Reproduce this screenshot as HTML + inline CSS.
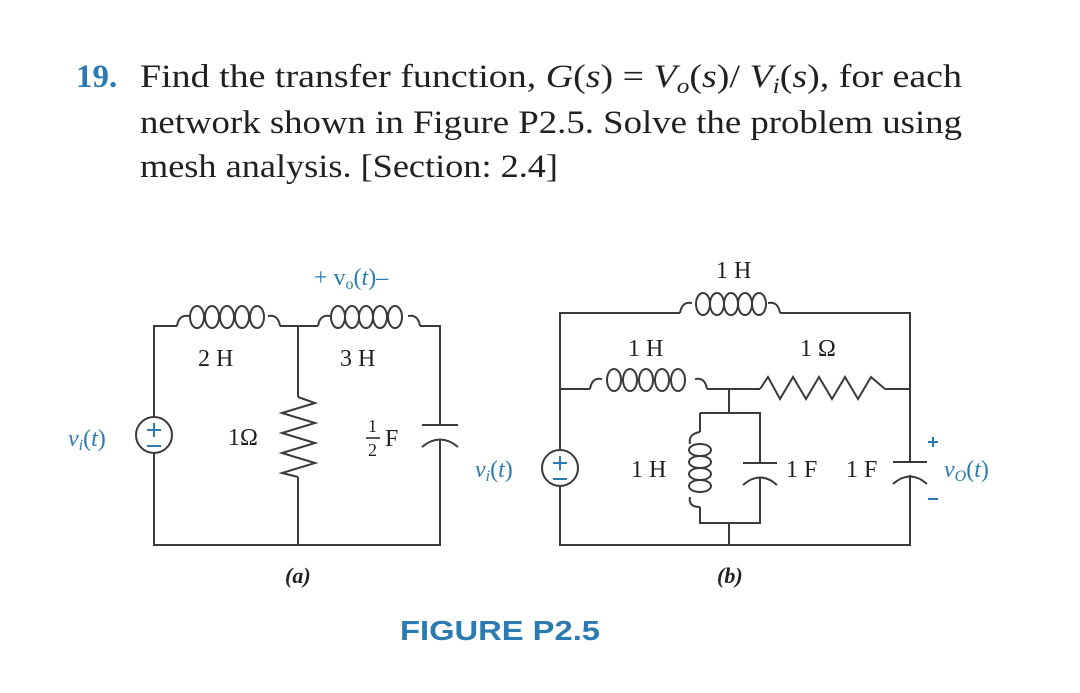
<!DOCTYPE html>
<html><head><meta charset="utf-8"><style>
html,body{margin:0;padding:0;background:#fff;}
svg{display:block;}
text{font-family:"Liberation Serif",serif;fill:#231f20;}
.b{fill:#2b7bb0;}
</style></head><body>
<svg width="1080" height="693" viewBox="0 0 1080 693" xmlns="http://www.w3.org/2000/svg">
<rect width="1080" height="693" fill="#fff"/>
<!-- Title -->
<text x="76" y="87" font-size="33" font-weight="bold" class="b" style="fill:#2b7bb0">19.</text>
<text x="140" y="87" font-size="33" textLength="822" lengthAdjust="spacingAndGlyphs">Find the transfer function, <tspan font-style="italic">G</tspan>(<tspan font-style="italic">s</tspan>) = <tspan font-style="italic">V</tspan><tspan font-style="italic" font-size="22" dy="6">o</tspan><tspan dy="-6">(</tspan><tspan font-style="italic">s</tspan>)/ <tspan font-style="italic">V</tspan><tspan font-style="italic" font-size="22" dy="6">i</tspan><tspan dy="-6">(</tspan><tspan font-style="italic">s</tspan>), for each</text>
<text x="140" y="133" font-size="33" textLength="822" lengthAdjust="spacingAndGlyphs">network shown in Figure P2.5. Solve the problem using</text>
<text x="140" y="177" font-size="33" textLength="418" lengthAdjust="spacingAndGlyphs">mesh analysis. [Section: 2.4]</text>

<g stroke="#3a3a3a" stroke-width="2" fill="none">
<!-- Circuit (a) -->
<path d="M154,417 V326 H177 M280,326 H318 M420,326 H440 V425 M440,440 V545 H154 V453"/>
<path d="M298,326 V397 M298,477 V545"/>
<!-- 2H coil -->
<path d="M177,326 q2,-12 12,-10 M268,316 q10,-2 12,10"/>
<ellipse cx="197" cy="317" rx="7" ry="11"/><ellipse cx="212" cy="317" rx="7" ry="11"/><ellipse cx="227" cy="317" rx="7" ry="11"/><ellipse cx="242" cy="317" rx="7" ry="11"/><ellipse cx="257" cy="317" rx="7" ry="11"/>
<!-- 3H coil -->
<path d="M318,326 q2,-12 12,-10 M408,316 q10,-2 12,10"/>
<ellipse cx="338" cy="317" rx="7" ry="11"/><ellipse cx="352" cy="317" rx="7" ry="11"/><ellipse cx="366" cy="317" rx="7" ry="11"/><ellipse cx="380" cy="317" rx="7" ry="11"/><ellipse cx="395" cy="317" rx="7" ry="11"/>
<!-- resistor -->
<path d="M298,397 L315,403 L282,413 L315,423 L282,433 L315,443 L282,453 L315,463 L282,473 L298,477"/>
<!-- capacitor -->
<path d="M422,425 H458 M422,447 Q440,432 458,447"/>
<!-- source -->
<circle cx="154" cy="435" r="18"/>
<!-- Circuit (b) -->
<path d="M560,450 V313 H680 M780,313 H910 V462 M910,475 V545 H560 V486"/>
<path d="M560,389 H590 M707,389 H760 M885,389 H910"/>
<path d="M729,389 V413 M700,413 H760 V463 M760,478 V523 H700 V507 M700,432 V413 M729,523 V545"/>
<!-- top coil -->
<path d="M680,313 q2,-12 12,-10 M768,303 q10,-2 12,10"/>
<ellipse cx="703" cy="304" rx="7" ry="11"/><ellipse cx="717" cy="304" rx="7" ry="11"/><ellipse cx="731" cy="304" rx="7" ry="11"/><ellipse cx="745" cy="304" rx="7" ry="11"/><ellipse cx="759" cy="304" rx="7" ry="11"/>
<!-- middle coil -->
<path d="M590,389 q2,-12 12,-10 M695,379 q10,-2 12,10"/>
<ellipse cx="614" cy="380" rx="7" ry="11"/><ellipse cx="630" cy="380" rx="7" ry="11"/><ellipse cx="646" cy="380" rx="7" ry="11"/><ellipse cx="662" cy="380" rx="7" ry="11"/><ellipse cx="678" cy="380" rx="7" ry="11"/>
<!-- resistor horizontal -->
<path d="M760,389 L768,377 L780,399 L793,377 L806,399 L819,377 L832,399 L845,377 L858,399 L871,377 L885,389"/>
<!-- vertical coil -->
<path d="M700,432 q-12,2 -10,12 M690,497 q-2,10 10,10"/>
<ellipse cx="700" cy="450" rx="11" ry="6"/><ellipse cx="700" cy="462" rx="11" ry="6"/><ellipse cx="700" cy="474" rx="11" ry="6"/><ellipse cx="700" cy="486" rx="11" ry="6"/>
<!-- caps -->
<path d="M743,463 H777 M743,485 Q760,470 777,485"/>
<path d="M893,462 H927 M893,484 Q910,469 927,484"/>
<circle cx="560" cy="468" r="18"/>
</g>
<!-- source symbols -->
<g stroke="#2b7bb0" stroke-width="2">
<path d="M147,430 H161 M154,423 V437 M147,446 H161"/>
<path d="M553,463 H567 M560,456 V470 M553,479 H567"/>
<path d="M928,442 H938 M933,437 V447 M928,499 H938"/>
</g>
<!-- labels (a) -->
<text x="314" y="285" font-size="24" style="fill:#2b7bb0">+ v<tspan font-size="16" dy="4">o</tspan><tspan dy="-4">(</tspan><tspan font-style="italic">t</tspan>)–</text>
<text x="198" y="366" font-size="24">2 H</text>
<text x="340" y="366" font-size="24">3 H</text>
<text x="228" y="445" font-size="24">1Ω</text>
<text x="368" y="432" font-size="18">1</text>
<line x1="366" y1="438" x2="380" y2="438" stroke="#231f20" stroke-width="1.5"/>
<text x="368" y="456" font-size="18">2</text>
<text x="385" y="446" font-size="24">F</text>
<text x="68" y="446" font-size="24" font-style="italic" style="fill:#2b7bb0">v<tspan font-size="16" dy="4">i</tspan><tspan dy="-4" font-style="normal">(</tspan>t<tspan font-style="normal">)</tspan></text>
<text x="285" y="583" font-size="22" font-style="italic" font-weight="bold">(a)</text>
<!-- labels (b) -->
<text x="716" y="278" font-size="24">1 H</text>
<text x="628" y="356" font-size="24">1 H</text>
<text x="800" y="356" font-size="24">1 Ω</text>
<text x="631" y="477" font-size="24">1 H</text>
<text x="786" y="477" font-size="24">1 F</text>
<text x="846" y="477" font-size="24">1 F</text>
<text x="475" y="477" font-size="24" font-style="italic" style="fill:#2b7bb0">v<tspan font-size="16" dy="4">i</tspan><tspan dy="-4" font-style="normal">(</tspan>t<tspan font-style="normal">)</tspan></text>
<text x="944" y="477" font-size="24" font-style="italic" style="fill:#2b7bb0">v<tspan font-size="16" dy="4">O</tspan><tspan dy="-4" font-style="normal">(</tspan>t<tspan font-style="normal">)</tspan></text>
<text x="717" y="583" font-size="22" font-style="italic" font-weight="bold">(b)</text>
<text x="400" y="640" font-size="28" font-weight="bold" style="font-family:'Liberation Sans',sans-serif;fill:#2b7bb0" textLength="200" lengthAdjust="spacingAndGlyphs">FIGURE P2.5</text>
</svg>
</body></html>
